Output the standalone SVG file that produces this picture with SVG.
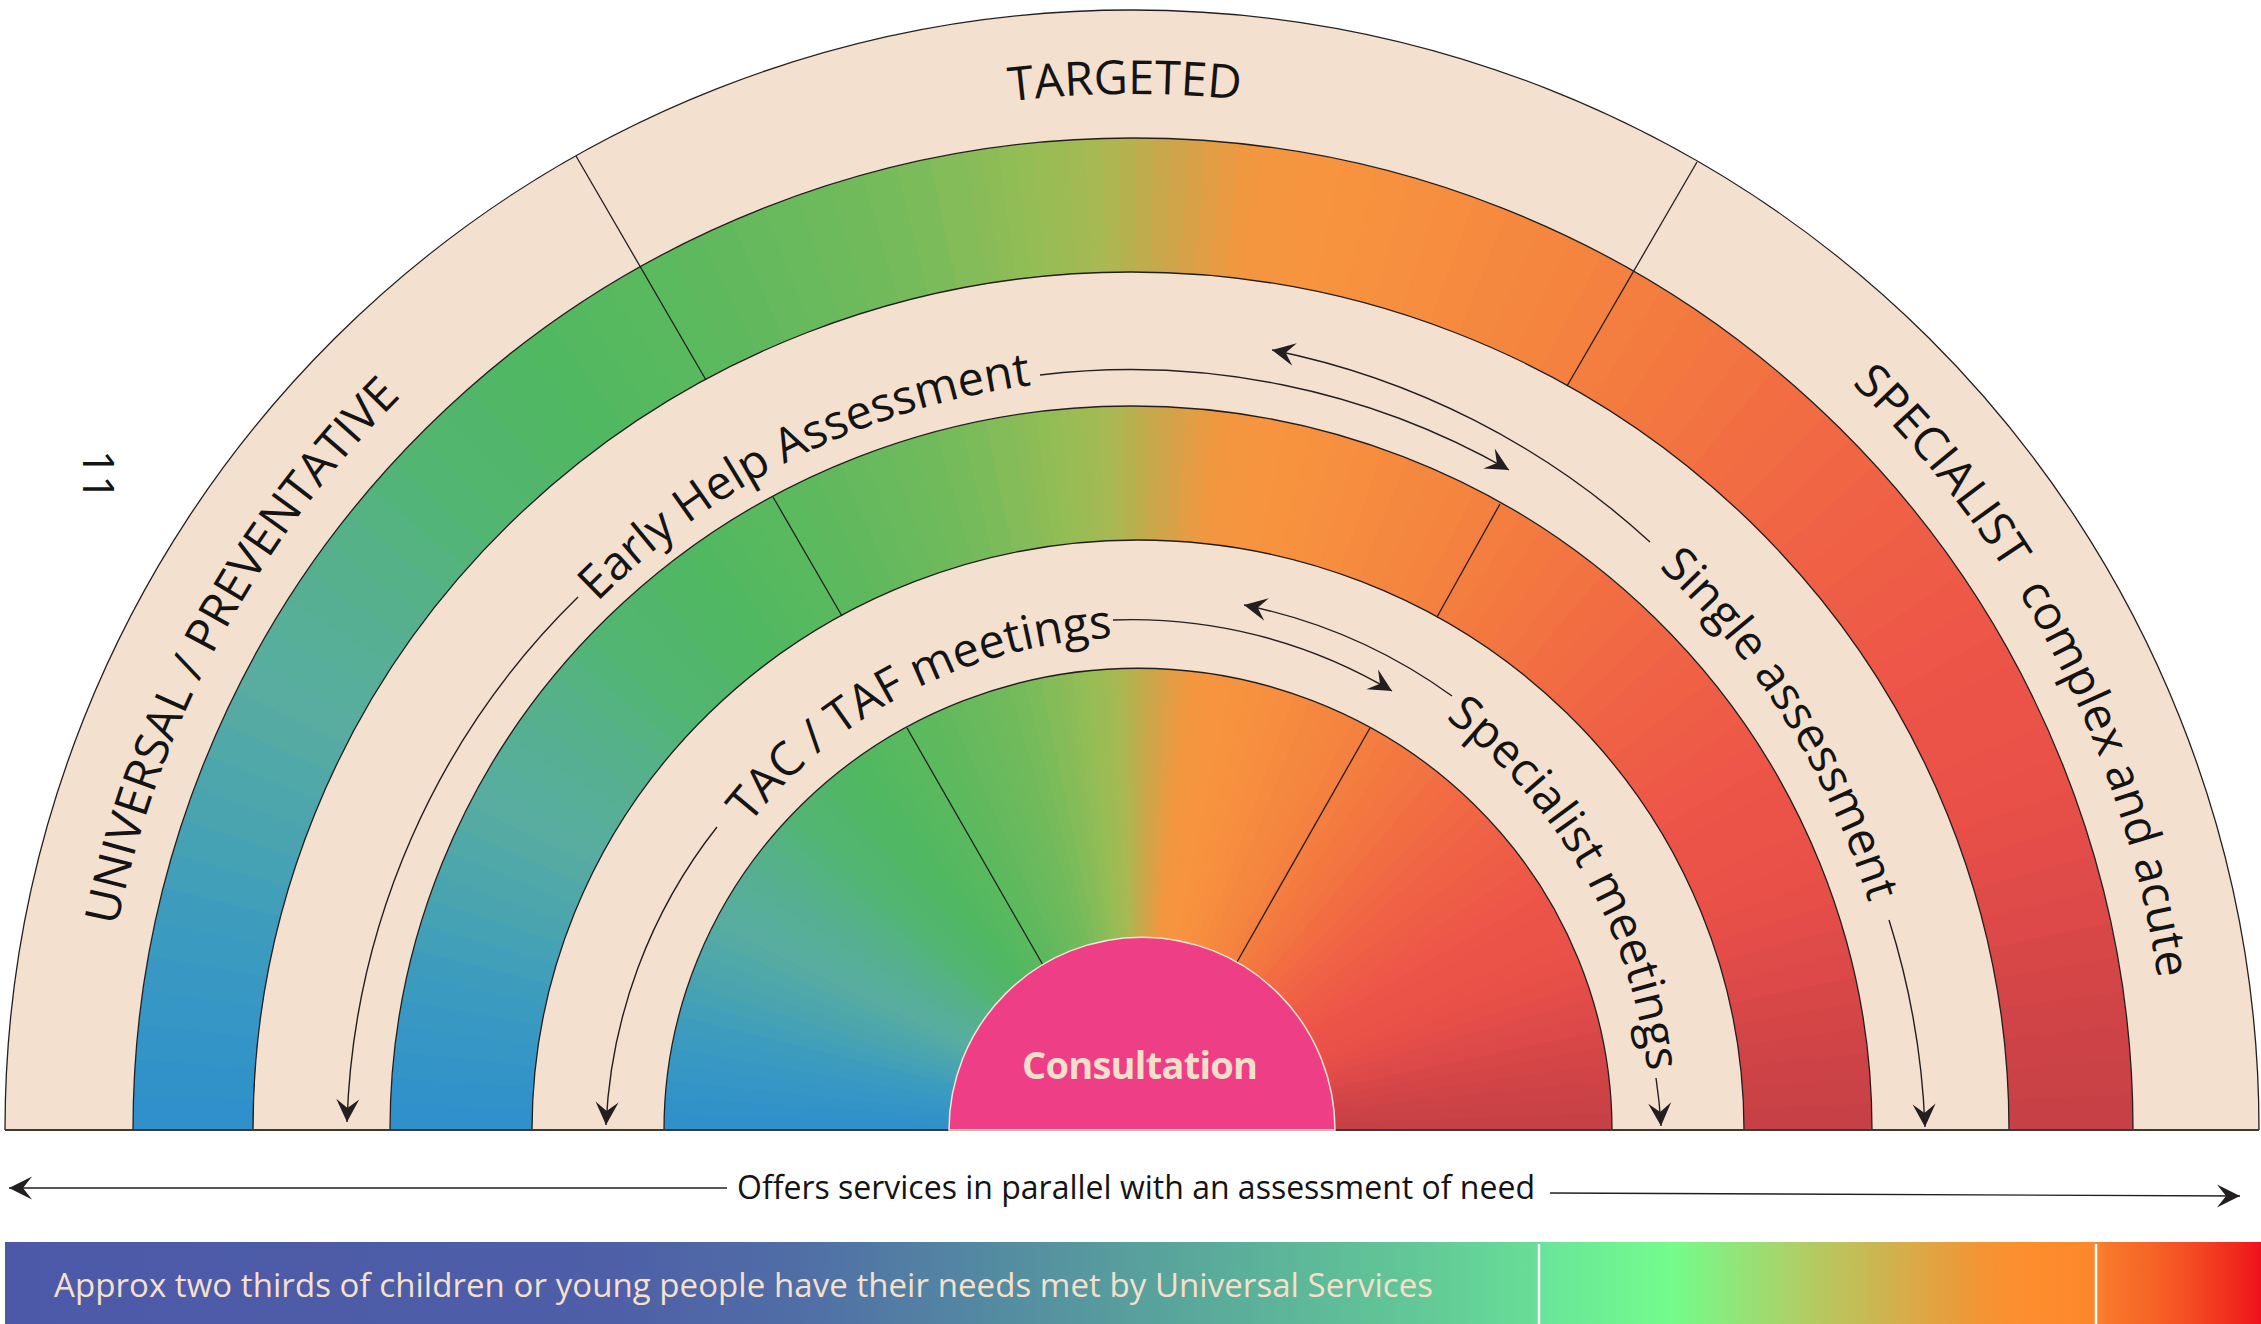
<svg xmlns="http://www.w3.org/2000/svg" xmlns:xlink="http://www.w3.org/1999/xlink" width="2261" height="1324" viewBox="0 0 2261 1324">
  <style>
    .ln { fill: none; stroke: #231f20; stroke-width: 1.3; }
    .lbl { font-family: "Open Sans", "Noto Sans", sans-serif; font-size: 47px; fill: #141414; }
    .arr { fill: none; stroke: #231f20; stroke-width: 1.4; marker-end: url(#ah); }
    .small { font-family: "Open Sans", "Noto Sans", sans-serif; font-size: 32px; fill: #141414; }
  </style>
  <defs>
    <marker id="ah" viewBox="-24 -12 26 24" refX="0" refY="0" markerWidth="26" markerHeight="24" markerUnits="userSpaceOnUse" orient="auto">
      <path d="M0 0L-23 -11.5L-14 0L-23 11.5Z" fill="#231f20"/>
    </marker>
    <!-- conic colour wedges: 2.5 deg and 1.5 deg slices (overlapping) -->
    <path id="w2" d="M0 0H1150V-50Z"/>
    <path id="w1" d="M0 0H1150V-30Z"/>
    <!-- the three coloured bands, as one even-odd clip -->
    <clipPath id="bandClip">
      <path clip-rule="evenodd" d="M133 1130A1000 992 0 0 1 2133 1130Z M253 1130A878 858 0 0 1 2009 1130Z M390 1130A741 724 0 0 1 1872 1130Z M532 1130A606 590 0 0 1 1744 1130Z M664 1130A474 462 0 0 1 1612 1130Z"/>
    </clipPath>
    <!-- label baselines -->
    <path id="p-outer" d="M97 1130A1036 1036 0 0 1 2169 1130"/>
    <path id="p-eh" d="M381 1130A752 752 0 0 1 1885 1130"/>
    <path id="p-sa" d="M363 1130A770 770 0 0 1 1903 1130"/>
    <path id="p-tac" d="M643 1130A493 493 0 0 1 1629 1130"/>
    <path id="p-sm" d="M621 1130A515 515 0 0 1 1651 1130"/>
    <linearGradient id="barGrad" gradientUnits="userSpaceOnUse" x1="5" y1="0" x2="2260" y2="0">
      <stop offset="0" stop-color="#4c59a8"/>
      <stop offset="0.264" stop-color="#4e5ea7"/>
      <stop offset="0.353" stop-color="#506ea6"/>
      <stop offset="0.443" stop-color="#548ca1"/>
      <stop offset="0.533" stop-color="#5aaa9b"/>
      <stop offset="0.624" stop-color="#62c797"/>
      <stop offset="0.679" stop-color="#68de98"/>
      <stop offset="0.683" stop-color="#69e59a"/>
      <stop offset="0.739" stop-color="#74fc8c"/>
      <stop offset="0.764" stop-color="#8ee87c"/>
      <stop offset="0.801" stop-color="#b3cb62"/>
      <stop offset="0.839" stop-color="#d3b04c"/>
      <stop offset="0.876" stop-color="#f39434"/>
      <stop offset="0.895" stop-color="#fd8e2e"/>
      <stop offset="0.926" stop-color="#fd882c"/>
      <stop offset="0.932" stop-color="#f8772a"/>
      <stop offset="0.952" stop-color="#f66426"/>
      <stop offset="0.970" stop-color="#f44a22"/>
      <stop offset="0.989" stop-color="#f02a1e"/>
      <stop offset="1" stop-color="#ee111c"/>
    </linearGradient>
  </defs>

  <rect width="2261" height="1324" fill="#ffffff"/>

  <!-- outer beige half-disc -->
  <g id="ring-outer">
    <path d="M5 1130A1127 1120 0 0 1 2259 1130Z" fill="#f4e0cf"/>
  </g>

  <!-- coloured bands (conic blue → green → orange → red) -->
  <g id="bands" clip-path="url(#bandClip)">
    <g transform="translate(1136 1130)">
      <use href="#w2" transform="rotate(0)" fill="#c74045"/>
      <use href="#w2" transform="rotate(-2)" fill="#ca4146"/>
      <use href="#w2" transform="rotate(-4)" fill="#cc4246"/>
      <use href="#w2" transform="rotate(-6)" fill="#d04447"/>
      <use href="#w2" transform="rotate(-8)" fill="#d44547"/>
      <use href="#w2" transform="rotate(-10)" fill="#d84748"/>
      <use href="#w2" transform="rotate(-12)" fill="#dc4948"/>
      <use href="#w2" transform="rotate(-14)" fill="#df4b48"/>
      <use href="#w2" transform="rotate(-16)" fill="#e34c48"/>
      <use href="#w2" transform="rotate(-18)" fill="#e64e48"/>
      <use href="#w2" transform="rotate(-20)" fill="#e95048"/>
      <use href="#w2" transform="rotate(-22)" fill="#ea5148"/>
      <use href="#w2" transform="rotate(-24)" fill="#eb5248"/>
      <use href="#w2" transform="rotate(-26)" fill="#ec5348"/>
      <use href="#w2" transform="rotate(-28)" fill="#ed5448"/>
      <use href="#w2" transform="rotate(-30)" fill="#ed5648"/>
      <use href="#w2" transform="rotate(-32)" fill="#ee5947"/>
      <use href="#w2" transform="rotate(-34)" fill="#ee5b47"/>
      <use href="#w2" transform="rotate(-36)" fill="#ee5d46"/>
      <use href="#w2" transform="rotate(-38)" fill="#ef6045"/>
      <use href="#w2" transform="rotate(-40)" fill="#ef6245"/>
      <use href="#w2" transform="rotate(-42)" fill="#f06644"/>
      <use href="#w2" transform="rotate(-44)" fill="#f06844"/>
      <use href="#w2" transform="rotate(-46)" fill="#f16b43"/>
      <use href="#w2" transform="rotate(-48)" fill="#f26e42"/>
      <use href="#w2" transform="rotate(-50)" fill="#f27242"/>
      <use href="#w2" transform="rotate(-52)" fill="#f37541"/>
      <use href="#w2" transform="rotate(-54)" fill="#f37840"/>
      <use href="#w2" transform="rotate(-56)" fill="#f37b40"/>
      <use href="#w2" transform="rotate(-58)" fill="#f47e3f"/>
      <use href="#w2" transform="rotate(-60)" fill="#f4813f"/>
      <use href="#w2" transform="rotate(-62)" fill="#f5843f"/>
      <use href="#w2" transform="rotate(-64)" fill="#f5863f"/>
      <use href="#w2" transform="rotate(-66)" fill="#f5883f"/>
      <use href="#w2" transform="rotate(-68)" fill="#f68b3f"/>
      <use href="#w2" transform="rotate(-70)" fill="#f68d3f"/>
      <use href="#w2" transform="rotate(-72)" fill="#f68f3f"/>
      <use href="#w2" transform="rotate(-74)" fill="#f7913f"/>
      <use href="#w2" transform="rotate(-76)" fill="#f7933f"/>
      <use href="#w2" transform="rotate(-78)" fill="#f6943f"/>
      <use href="#w1" transform="rotate(-80)" fill="#f5953f"/>
      <use href="#w1" transform="rotate(-81)" fill="#f4953f"/>
      <use href="#w1" transform="rotate(-82)" fill="#f3963f"/>
      <use href="#w1" transform="rotate(-83)" fill="#ef9840"/>
      <use href="#w1" transform="rotate(-84)" fill="#e89b43"/>
      <use href="#w1" transform="rotate(-85)" fill="#e19e45"/>
      <use href="#w1" transform="rotate(-86)" fill="#d9a147"/>
      <use href="#w1" transform="rotate(-87)" fill="#d0a449"/>
      <use href="#w1" transform="rotate(-88)" fill="#c8a84b"/>
      <use href="#w1" transform="rotate(-89)" fill="#bfac4d"/>
      <use href="#w1" transform="rotate(-90)" fill="#b6b14f"/>
      <use href="#w1" transform="rotate(-91)" fill="#adb651"/>
      <use href="#w1" transform="rotate(-92)" fill="#a6b952"/>
      <use href="#w1" transform="rotate(-93)" fill="#a1ba53"/>
      <use href="#w1" transform="rotate(-94)" fill="#9dbb54"/>
      <use href="#w1" transform="rotate(-95)" fill="#99bc55"/>
      <use href="#w1" transform="rotate(-96)" fill="#94bd56"/>
      <use href="#w1" transform="rotate(-97)" fill="#90bd56"/>
      <use href="#w1" transform="rotate(-98)" fill="#8dbc57"/>
      <use href="#w1" transform="rotate(-99)" fill="#89bc58"/>
      <use href="#w2" transform="rotate(-100)" fill="#84bc59"/>
      <use href="#w2" transform="rotate(-102)" fill="#7cbb5a"/>
      <use href="#w2" transform="rotate(-104)" fill="#75ba5b"/>
      <use href="#w2" transform="rotate(-106)" fill="#71ba5c"/>
      <use href="#w2" transform="rotate(-108)" fill="#6dba5c"/>
      <use href="#w2" transform="rotate(-110)" fill="#69ba5c"/>
      <use href="#w2" transform="rotate(-112)" fill="#66b95d"/>
      <use href="#w2" transform="rotate(-114)" fill="#62b95d"/>
      <use href="#w2" transform="rotate(-116)" fill="#5eb95e"/>
      <use href="#w2" transform="rotate(-118)" fill="#5bb95e"/>
      <use href="#w2" transform="rotate(-120)" fill="#58b95f"/>
      <use href="#w2" transform="rotate(-122)" fill="#56b960"/>
      <use href="#w2" transform="rotate(-124)" fill="#54b861"/>
      <use href="#w2" transform="rotate(-126)" fill="#51b862"/>
      <use href="#w2" transform="rotate(-128)" fill="#50b864"/>
      <use href="#w2" transform="rotate(-130)" fill="#51b767"/>
      <use href="#w2" transform="rotate(-132)" fill="#51b66b"/>
      <use href="#w2" transform="rotate(-134)" fill="#52b66e"/>
      <use href="#w2" transform="rotate(-136)" fill="#52b572"/>
      <use href="#w2" transform="rotate(-138)" fill="#53b479"/>
      <use href="#w2" transform="rotate(-140)" fill="#54b380"/>
      <use href="#w2" transform="rotate(-142)" fill="#55b187"/>
      <use href="#w2" transform="rotate(-144)" fill="#56b08e"/>
      <use href="#w2" transform="rotate(-146)" fill="#57af93"/>
      <use href="#w2" transform="rotate(-148)" fill="#57af97"/>
      <use href="#w2" transform="rotate(-150)" fill="#58ae9c"/>
      <use href="#w2" transform="rotate(-152)" fill="#59ada0"/>
      <use href="#w2" transform="rotate(-154)" fill="#55aba4"/>
      <use href="#w2" transform="rotate(-156)" fill="#51a8a8"/>
      <use href="#w2" transform="rotate(-158)" fill="#4da6ac"/>
      <use href="#w2" transform="rotate(-160)" fill="#49a4b0"/>
      <use href="#w2" transform="rotate(-162)" fill="#45a1b4"/>
      <use href="#w2" transform="rotate(-164)" fill="#419fb9"/>
      <use href="#w2" transform="rotate(-166)" fill="#3d9cbd"/>
      <use href="#w2" transform="rotate(-168)" fill="#3a9ac0"/>
      <use href="#w2" transform="rotate(-170)" fill="#3898c3"/>
      <use href="#w2" transform="rotate(-172)" fill="#3696c5"/>
      <use href="#w2" transform="rotate(-174)" fill="#3394c7"/>
      <use href="#w2" transform="rotate(-176)" fill="#3192ca"/>
      <use href="#w2" transform="rotate(-178)" fill="#2f90cc"/>
    </g>
  </g>

  <!-- ring outlines -->
  <g id="outlines" class="ln">
    <path d="M5 1130A1127 1120 0 0 1 2259 1130"/>
    <path d="M133 1130A1000 992 0 0 1 2133 1130"/>
    <path d="M253 1130A878 858 0 0 1 2009 1130"/>
    <path d="M390 1130A741 724 0 0 1 1872 1130"/>
    <path d="M532 1130A606 590 0 0 1 1744 1130"/>
    <path d="M664 1130A474 462 0 0 1 1612 1130"/>
  </g>

  <!-- sector dividers -->
  <g id="dividers" class="ln">
    <path d="M576 156L706 380"/>
    <path d="M1697 162L1567 386"/>
    <path d="M773 497L842 616"/>
    <path d="M1500 504L1437 617"/>
    <path d="M907 728L1043 965"/>
    <path d="M1370 728L1237 962"/>
  </g>

  <!-- baseline -->
  <path d="M5 1130H2259" fill="none" stroke="#3a3a3a" stroke-width="2.2"/>

  <!-- outer ring labels -->
  <g id="label-universal">
    <text class="lbl" text-anchor="middle"><textPath href="#p-outer" startOffset="510">UNIVERSAL / PREVENTATIVE</textPath></text>
  </g>
  <g id="label-targeted">
    <text class="lbl" text-anchor="middle"><textPath href="#p-outer" startOffset="1619">TARGETED</textPath></text>
  </g>
  <g id="label-specialist">
    <text class="lbl" text-anchor="middle"><textPath href="#p-outer" startOffset="2762">SPECIALIST&#160; complex and acute</textPath></text>
  </g>

  <!-- assessment ring labels -->
  <g id="label-early-help">
    <text class="lbl" text-anchor="middle"><textPath href="#p-eh" startOffset="832">Early Help Assessment</textPath></text>
  </g>
  <g id="label-single">
    <text class="lbl" text-anchor="middle"><textPath href="#p-sa" startOffset="1988">Single assessment</textPath></text>
  </g>

  <!-- meetings ring labels -->
  <g id="label-tac">
    <text class="lbl" text-anchor="middle"><textPath href="#p-tac" startOffset="540">TAC / TAF meetings</textPath></text>
  </g>
  <g id="label-specialist-meetings">
    <text class="lbl" text-anchor="middle"><textPath href="#p-sm" startOffset="1350">Specialist meetings</textPath></text>
  </g>

  <!-- centre -->
  <g id="consultation">
    <path d="M949 1130A193 193 0 0 1 1335 1130Z" fill="#ee3f86" stroke="#f6e3d3" stroke-width="1.5"/>
    <text x="1140" y="1079" text-anchor="middle" font-family="'Open Sans', 'Noto Sans', sans-serif" font-weight="bold" font-size="38" fill="#f6dfca" textLength="236">Consultation</text>
  </g>

  <!-- page number -->
  <text transform="translate(83 450) rotate(90)" font-family="'Open Sans', 'Noto Sans', sans-serif" font-size="44" fill="#141414">11</text>

  <!-- connectors -->
  <g id="connectors">
    <path class="arr" d="M578 597A770 770 0 0 0 347 1122"/>
    <path class="arr" d="M1040 375A762 762 0 0 1 1509 470"/>
    <path class="arr" d="M1650 542A790 790 0 0 0 1272 350"/>
    <path class="arr" d="M1889 920A790 790 0 0 1 1925 1127"/>
    <path class="arr" d="M717 827A520 520 0 0 0 606 1125"/>
    <path class="arr" d="M1113 620A510 510 0 0 1 1392 691"/>
    <path class="arr" d="M1452 696A536 536 0 0 0 1244 605"/>
    <path class="arr" d="M1656 1078A525 525 0 0 1 1661 1126"/>
    <path class="arr" d="M727 1188H9"/>
    <path class="arr" d="M1550 1193L2240 1196"/>
  </g>

  <g id="parallel-label">
    <text class="small" x="737" y="1199" textLength="798">Offers services in parallel with an assessment of need</text>
  </g>

  <!-- proportion bar -->
  <g id="scale-bar">
    <rect x="5" y="1242" width="2256" height="82" fill="url(#barGrad)"/>
    <path d="M1539 1244V1324M2096 1244V1324" stroke="#ffffff" stroke-width="2.5"/>
    <text x="54" y="1297" font-family="'Open Sans', 'Noto Sans', sans-serif" font-size="33" fill="#f6e0cc" textLength="1379">Approx two thirds of children or young people have their needs met by Universal Services</text>
  </g>
</svg>
